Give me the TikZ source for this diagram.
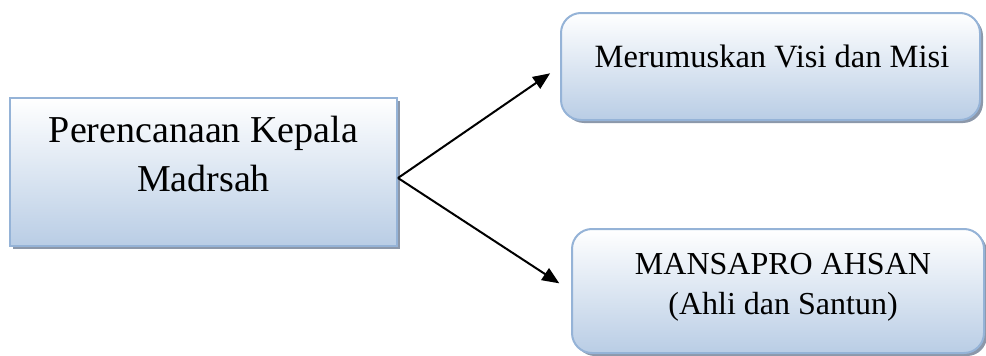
\documentclass[tikz,border=0pt]{standalone}
\usepackage{fontspec}
\setmainfont{Liberation Serif}
\usetikzlibrary{arrows.meta,shadows}

\definecolor{kotakgaris}{RGB}{149,179,215}
\definecolor{kotakbawah}{RGB}{185,205,229}
\definecolor{kotakbayang}{RGB}{140,152,170}

\tikzset{
  kotak/.style={draw=kotakgaris, line width=2pt, inner sep=0pt,
    top color=white, bottom color=kotakbawah,
    drop shadow={shadow xshift=3pt, shadow yshift=-3pt, fill=kotakbayang, opacity=1}},
  kotakbulat/.style={kotak, rounded corners=20pt},
  panah/.style={line width=2pt, -{Triangle[length=17pt,width=14pt]}}
}

\begin{document}
\begin{tikzpicture}[x=1pt,y=-1pt]
\useasboundingbox (0,0) rectangle (986,356);
% kotak
\node[kotak, minimum width=387pt, minimum height=148pt] (kepala) at (203.5,172) {};
\node[kotakbulat, minimum width=419pt, minimum height=107pt] (visi) at (770.5,66.5) {};
\node[kotakbulat, minimum width=412pt, minimum height=124pt] (ahsan) at (778,291) {};
% teks
\node[font=\fontsize{38}{49}\selectfont, align=center, inner sep=0pt] (kepalateks) at (203.5,154) {Perencanaan Kepala\\Madrsah};
\node[font=\fontsize{32.5}{40}\selectfont, anchor=base, inner sep=0pt] (visiteks) at (772,67) {Merumuskan Visi dan Misi};
\node[font=\fontsize{32}{40}\selectfont, align=center, inner sep=0pt] (ahsanteks) at (783,287.5) {MANSAPRO AHSAN\\(Ahli dan Santun)};
% panah
\coordinate (pangkal) at ([yshift=-6pt]kepala.east);
\draw[panah, shorten >=12pt] (pangkal) -- (visi.west);
\draw[panah, shorten >=14pt] (pangkal) -- (ahsan.west);
\end{tikzpicture}
\end{document}
